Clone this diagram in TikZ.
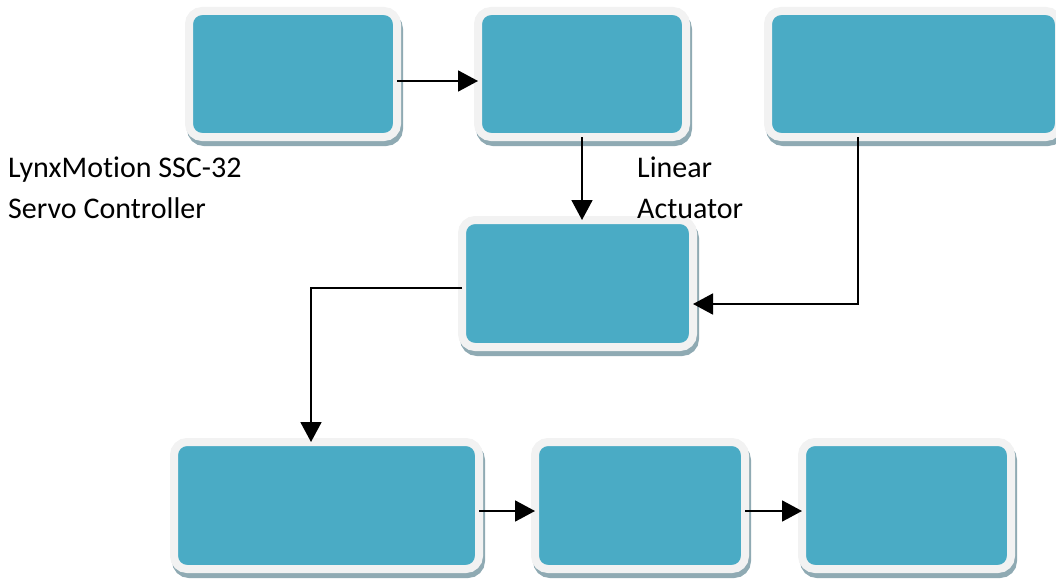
\documentclass[tikz,border=0pt]{standalone}
\usepackage{fontspec}
\setmainfont[Ligatures=NoCommon]{Carlito}
\usetikzlibrary{arrows.meta}
\definecolor{tealfill}{HTML}{4AABC5}
\definecolor{framecol}{HTML}{F2F2F2}
\definecolor{shadowcol}{HTML}{8FAAB3}
\tikzset{
  blockbox/.style={draw=framecol, fill=tealfill, line width=8pt, rounded corners=13pt,
    inner sep=0pt, outer sep=0pt,
    preaction={draw=shadowcol, fill=shadowcol, transform canvas={xshift=2pt,yshift=-5pt}}},
  conn/.style={line width=1.8pt, -{Triangle[length=20pt,width=21pt]}},
  lbl/.style={anchor=base west, inner sep=0pt, align=left, font=\fontsize{30}{41}\selectfont}
}
\begin{document}
\begin{tikzpicture}[x=1pt,y=-1pt]
\useasboundingbox (0,0) rectangle (1056,578);
% boxes: node centred on inner area, size = inner + 8 (border at frame centre)
\node[blockbox, minimum width=208pt, minimum height=126pt] (b1) at (293,74) {};
\node[blockbox, minimum width=208pt, minimum height=126pt] (b2) at (582,74) {};
\node[blockbox, minimum width=291pt, minimum height=126pt] (b3) at (913.5,74) {};
\node[blockbox, minimum width=231pt, minimum height=127pt] (b4) at (577.5,283.5) {};
\node[blockbox, minimum width=305pt, minimum height=127pt] (b5) at (326.5,505.5) {};
\node[blockbox, minimum width=210pt, minimum height=127pt] (b6) at (640,505.5) {};
\node[blockbox, minimum width=209pt, minimum height=127pt] (b7) at (906.5,505.5) {};
% labels (base anchor = baseline of the last line)
\node[lbl] (t1) at (8,218) {LynxMotion SSC-32\\Servo Controller};
\node[lbl] (t2) at (637,218) {Linear\\Actuator};
% connectors
\draw[conn] ([yshift=-7pt]b1.east) -- ([yshift=-7pt]b2.west);
\draw[conn] (b2.south) -- (b2.south |- b4.north);
\draw[conn] ([xshift=-55.5pt]b3.south) |- ([yshift=-20.5pt]b4.east);
\draw[conn] ([yshift=-4.5pt]b4.west) -| ([xshift=-15.5pt]b5.north);
\draw[conn] ([yshift=-5.5pt]b5.east) -- ([yshift=-5.5pt]b6.west);
\draw[conn] ([yshift=-5.5pt]b6.east) -- ([yshift=-5.5pt]b7.west);
\end{tikzpicture}
\end{document}
